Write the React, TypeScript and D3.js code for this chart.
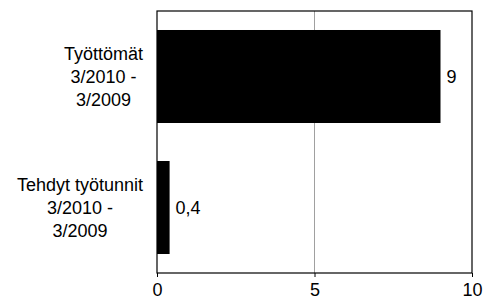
import { useEffect, useRef } from "react";
import * as d3 from "d3";

const W = 484;
const H = 307;
const MARGIN = { top: 11, right: 12, bottom: 34, left: 157 };

// Categories (each label split into its lines) and values.
const categories = ["Työttömät", "Tehdyt työtunnit"];
const categoryLines = [
  ["Työttömät", "3/2010 -", "3/2009"],
  ["Tehdyt työtunnit", "3/2010 -", "3/2009"],
];
const values = [9, 0.4];
const valueLabels = ["9", "0,4"];
const xTicks = [0, 5, 10];

const FONT = "Arial, 'Liberation Sans', sans-serif";
const FS = 18;

export default function App() {
  const svgRef = useRef<SVGSVGElement | null>(null);

  useEffect(() => {
    const svg = d3.select(svgRef.current);
    svg.selectAll("*").remove();

    const x = d3
      .scaleLinear()
      .domain([0, 10])
      .range([MARGIN.left, W - MARGIN.right]);
    const y = d3
      .scaleBand<string>()
      .domain(categories)
      .range([MARGIN.top, H - MARGIN.bottom])
      .paddingInner(0.29)
      .paddingOuter(0.145);

    const top = MARGIN.top;
    const bottom = H - MARGIN.bottom;

    svg
      .append("rect")
      .attr("x", x(0))
      .attr("y", top)
      .attr("width", x(10) - x(0))
      .attr("height", bottom - top)
      .attr("fill", "#fff");

    // Gridline at 5
    svg
      .append("line")
      .attr("x1", x(5))
      .attr("x2", x(5))
      .attr("y1", top)
      .attr("y2", bottom)
      .attr("stroke", "#888")
      .attr("stroke-width", 0.8);

    // Bars
    svg
      .selectAll("rect.bar")
      .data(categories)
      .join("rect")
      .attr("class", "bar")
      .attr("x", x(0))
      .attr("y", (d) => y(d)!)
      .attr("width", (_, i) => x(values[i]) - x(0))
      .attr("height", y.bandwidth())
      .attr("fill", "#000");

    // Plot border
    svg
      .append("rect")
      .attr("x", x(0))
      .attr("y", top)
      .attr("width", x(10) - x(0))
      .attr("height", bottom - top)
      .attr("fill", "none")
      .attr("stroke", "#000")
      .attr("stroke-width", 1.2);

    // X axis
    const axis = svg
      .append("g")
      .attr("transform", `translate(0,${bottom})`)
      .call(d3.axisBottom(x).tickValues(xTicks).tickSize(4).tickPadding(6));
    axis.select(".domain").remove();
    axis.selectAll("line").attr("stroke", "#000");
    axis
      .selectAll("text")
      .attr("font-family", FONT)
      .attr("font-size", FS)
      .attr("fill", "#000");

    // Value labels
    svg
      .selectAll("text.val")
      .data(categories)
      .join("text")
      .attr("class", "val")
      .attr("x", (_, i) => x(values[i]) + 6)
      .attr("y", (d) => y(d)! + y.bandwidth() / 2)
      .attr("dy", "0.35em")
      .attr("font-family", FONT)
      .attr("font-size", FS)
      .attr("fill", "#000")
      .text((_, i) => valueLabels[i]);

    // Category labels: lines centred within a block right-aligned near the axis
    const blockRight = x(0) - 14;
    const lineH = 23;
    categories.forEach((c, i) => {
      const lines = categoryLines[i];
      const g = svg.append("g");
      const texts = g
        .selectAll("text")
        .data(lines)
        .join("text")
        .attr("font-family", FONT)
        .attr("font-size", FS)
        .attr("fill", "#000")
        .attr("text-anchor", "middle")
        .attr(
          "y",
          (_, j) => y(c)! + y.bandwidth() / 2 + (j - (lines.length - 1) / 2) * lineH
        )
        .attr("dy", "0.35em")
        .text((d) => d);
      let maxW = 0;
      texts.each(function () {
        maxW = Math.max(maxW, (this as SVGTextElement).getComputedTextLength());
      });
      texts.attr("x", blockRight - maxW / 2);
    });
  }, []);

  return (
    <svg
      ref={svgRef}
      width={W}
      height={H}
      style={{ position: "absolute", left: 0, top: 0, background: "#fff" }}
    />
  );
}
